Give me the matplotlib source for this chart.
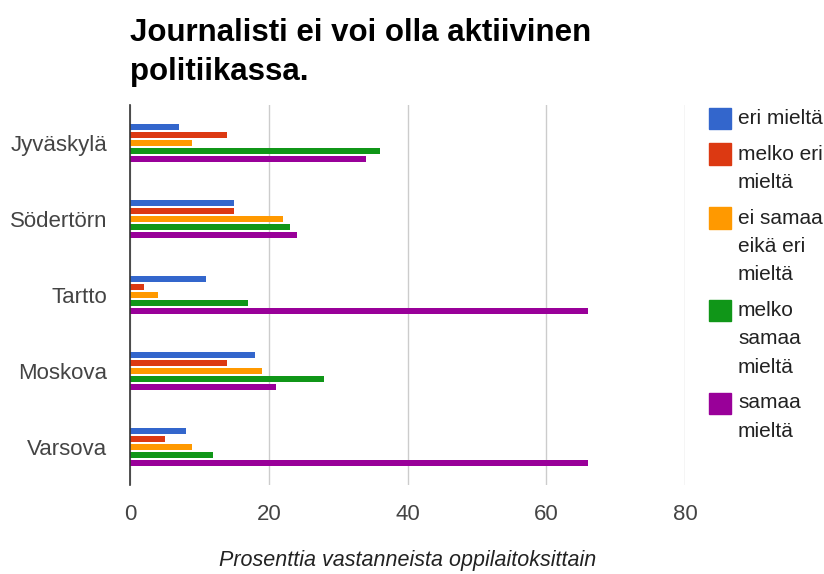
import numpy as np
import matplotlib
matplotlib.use("Agg")
import matplotlib.pyplot as plt
from matplotlib.patches import Rectangle

# dane (procent odpowiedzi)
schools = ["Jyväskylä", "Södertörn", "Tartto", "Moskova", "Varsova"]
series_labels = ["eri mieltä", "melko eri\nmieltä", "ei samaa\neikä eri\nmieltä",
                 "melko\nsamaa\nmieltä", "samaa\nmieltä"]
eri = [7, 15, 11, 18, 8]
melko_eri = [14, 15, 2, 14, 5]
ei_samaa_eika_eri = [9, 22, 4, 19, 9]
melko_samaa = [36, 23, 17, 28, 12]
samaa = [34, 24, 66, 21, 66]
x_ticks = [0, 20, 40, 60, 80]

colors = ["#3366cc", "#dc3912", "#ff9900", "#109618", "#990099"]
values = [eri, melko_eri, ei_samaa_eika_eri, melko_samaa, samaa]

plt.rcParams["font.family"] = ["Liberation Sans", "DejaVu Sans"]

fig = plt.figure(figsize=(8.24, 5.74), dpi=100)
ax = fig.add_axes([130 / 824, 1 - 485 / 574, 555 / 824, 380 / 574])

step = 8 / 76
height = 6 / 76
y = np.arange(len(schools))
for i, (vals, col) in enumerate(zip(values, colors)):
    offs = (i - 2) * step
    ax.barh(y + offs, vals, height=height, color=col, zorder=3)

ax.set_ylim(len(schools) - 0.5, -0.5)
ax.set_xlim(0, 80)
ax.set_xticks(x_ticks)
ax.set_yticks(y)
ax.set_yticklabels(schools)
ax.tick_params(axis="both", length=0, labelsize=16, colors="#444444")
ax.tick_params(axis="x", pad=13.5)
ax.tick_params(axis="y", pad=16.5)
ax.grid(axis="x", color="#cccccc", linewidth=1, zorder=0)
for s in ["top", "right", "bottom"]:
    ax.spines[s].set_visible(False)
ax.spines["left"].set_color("#333333")
ax.spines["left"].set_linewidth(1.2)
ax.spines["left"].set_zorder(4)

ax.set_xlabel("Prosenttia vastanneista oppilaitoksittain", fontsize=15.5,
              style="italic", color="#222222", labelpad=18)

fig.text(130 / 824, 1 - 18 / 574, "Journalisti ei voi olla aktiivinen\npolitiikassa.",
         fontsize=22.5, fontweight="bold", color="#000000", va="top", ha="left",
         linespacing=1.38)

# legenda rysowana ręcznie (zawijane etykiety jak w oryginale)
top = 108
for lab, col in zip(series_labels, colors):
    lines = lab.split("\n")
    fig.patches.append(Rectangle((709 / 824, 1 - (top + 21) / 574), 22 / 824, 21 / 574,
                                 transform=fig.transFigure, color=col))
    for k, line in enumerate(lines):
        fig.text(738 / 824, 1 - (top + 10.5 + k * 28.5) / 574, line, fontsize=15,
                 color="#222222", va="center", ha="left")
    top += len(lines) * 28.5 + 7

fig.savefig("out.png", dpi=100)
